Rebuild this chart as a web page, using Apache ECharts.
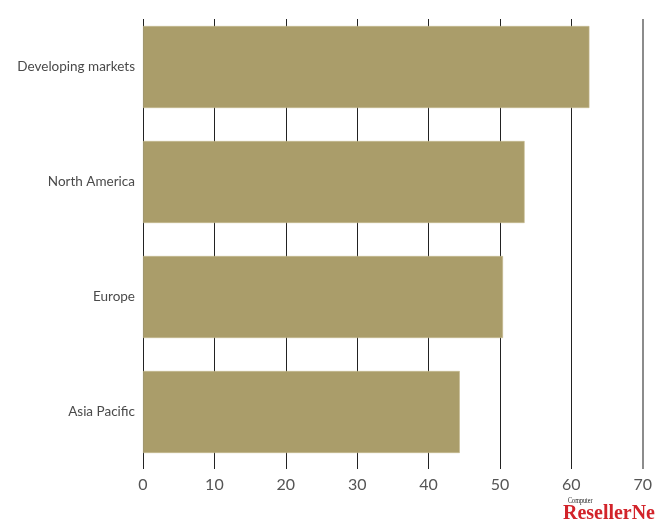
<!DOCTYPE html>
<html>
<head>
<meta charset="utf-8">
<script src="https://cdn.jsdelivr.net/npm/echarts@6/dist/echarts.min.js"></script>
<style>
  html, body { margin: 0; padding: 0; background: #fff; }
  #chart { width: 655px; height: 521px; }
</style>
</head>
<body>
<div id="chart"></div>
<script>
// Regions listed top to bottom
const regions = ['Developing markets', 'North America', 'Europe', 'Asia Pacific'];
const shares = [62, 53, 50, 44];
const xTicks = [0, 10, 20, 30, 40, 50, 60, 70];

const chart = echarts.init(document.getElementById('chart'), null, { renderer: 'canvas' });

const fontFam = 'Lato, "Open Sans", sans-serif';

chart.setOption({
  animation: false,
  backgroundColor: '#ffffff',
  grid: [
    // bars
    { left: 143, right: 8, top: 9.5, bottom: 51.5, containLabel: false },
    // vertical rules and value labels
    { left: 143, right: 8, top: 19, bottom: 52, containLabel: false }
  ],
  xAxis: [
    {
      gridIndex: 0, type: 'value', min: xTicks[0], max: xTicks[xTicks.length - 1], interval: 10,
      axisLine: { show: false }, axisTick: { show: false }, axisLabel: { show: false },
      splitLine: { show: false }
    },
    {
      gridIndex: 1, type: 'value', min: xTicks[0], max: xTicks[xTicks.length - 1], interval: 10,
      axisLine: { show: false }, axisTick: { show: false },
      axisLabel: {
        show: true, margin: 8, color: '#555', fontSize: 16, fontFamily: fontFam,
        formatter: v => String(v)
      },
      splitLine: {
        show: true,
        lineStyle: {
          width: 1,
          color: ['#222', '#222', '#222', '#222', '#222', '#222', '#222', 'rgba(0,0,0,0)']
        }
      }
    }
  ],
  yAxis: [
    {
      gridIndex: 0, type: 'category', data: regions, inverse: true,
      axisLine: { show: false }, axisTick: { show: false },
      axisLabel: { margin: 8, color: '#4a4a4a', fontSize: 13.5, fontFamily: fontFam }
    },
    {
      gridIndex: 1, type: 'category', data: regions, inverse: true, show: false
    }
  ],
  series: [
    {
      type: 'bar',
      xAxisIndex: 1, yAxisIndex: 1,
      data: [],
      silent: true,
      markLine: {
        silent: true, symbol: 'none', label: { show: false },
        lineStyle: { color: '#8c8c8c', width: 2, type: 'solid' },
        data: [{ xAxis: xTicks[xTicks.length - 1] }]
      }
    },
    {
      type: 'bar',
      xAxisIndex: 0, yAxisIndex: 0,
      data: shares,
      barWidth: 82,
      itemStyle: { color: '#aa9d6a', borderColor: '#c4b98d', borderWidth: 0.6 },
      z: 5
    }
  ],
  graphic: [
    {
      type: 'text', x: 568, y: 496, scaleX: 0.68,
      style: { text: 'Computer', font: '9px "Liberation Serif", serif', fill: '#222' }
    },
    {
      type: 'text', x: 563, y: 503, scaleX: 0.95,
      style: { text: 'ResellerNews', font: 'bold 21px "Liberation Serif", serif', fill: '#d2232a' }
    }
  ]
});
</script>
</body>
</html>
